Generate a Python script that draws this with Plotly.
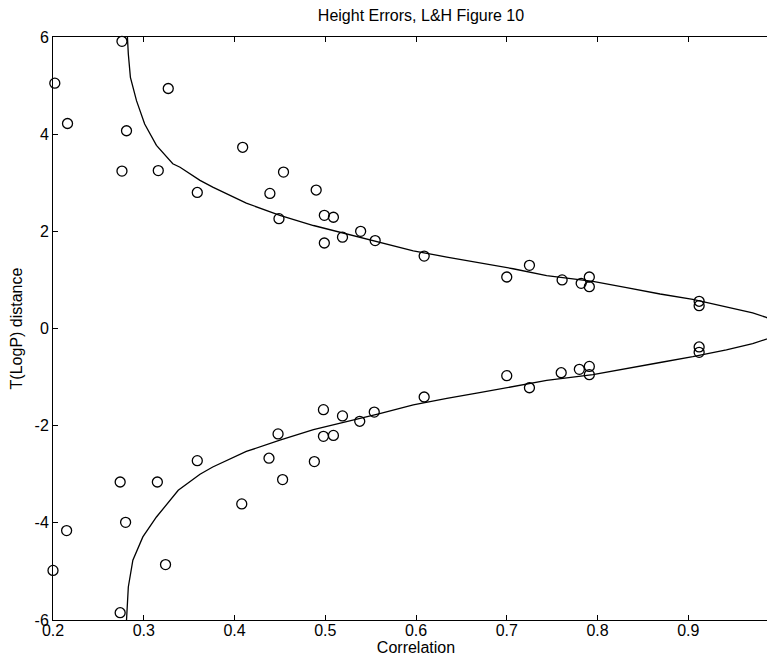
import plotly.graph_objects as go

# ---- data ----
corr_upper = [0.202, 0.216, 0.276, 0.281, 0.276, 0.316, 0.327, 0.359, 0.409, 0.454,
              0.439, 0.449, 0.490, 0.499, 0.509, 0.499, 0.519, 0.539, 0.555, 0.609,
              0.700, 0.725, 0.761, 0.782, 0.791, 0.791, 0.912, 0.912]
dist_upper = [5.05, 4.22, 5.91, 4.07, 3.24, 3.25, 4.94, 2.80, 3.73, 3.22,
              2.78, 2.26, 2.85, 2.33, 2.29, 1.76, 1.88, 2.00, 1.81, 1.49,
              1.06, 1.30, 1.00, 0.93, 1.06, 0.86, 0.56, 0.47]

corr_lower = [0.200, 0.215, 0.274, 0.280, 0.274, 0.315, 0.324, 0.359, 0.408, 0.453,
              0.438, 0.448, 0.488, 0.498, 0.498, 0.509, 0.519, 0.538, 0.554, 0.609,
              0.700, 0.725, 0.760, 0.780, 0.791, 0.791, 0.912, 0.912]
dist_lower = [-4.98, -4.16, -5.85, -3.99, -3.16, -3.16, -4.86, -2.72, -3.61, -3.11,
              -2.67, -2.17, -2.74, -1.67, -2.22, -2.20, -1.80, -1.91, -1.72, -1.41,
              -0.97, -1.22, -0.91, -0.84, -0.78, -0.95, -0.38, -0.49]

curve_corr = [0.282, 0.283, 0.2853, 0.292, 0.301, 0.314, 0.332, 0.340, 0.362, 0.376,
              0.413, 0.450, 0.487, 0.523, 0.560, 0.597, 0.634, 0.670, 0.707, 0.744,
              0.780, 0.795, 0.832, 0.869, 0.905, 0.942, 0.971, 0.986, 0.995, 1.0,
              0.995, 0.986, 0.971, 0.942, 0.905, 0.869, 0.832, 0.795, 0.744, 0.707,
              0.670, 0.634, 0.597, 0.560, 0.523, 0.487, 0.450, 0.413, 0.376, 0.362,
              0.338, 0.314, 0.299, 0.288, 0.283, 0.2815, 0.281]
curve_dist = [6.0, 5.65, 5.17, 4.69, 4.21, 3.77, 3.39, 3.32, 3.05, 2.91,
              2.58, 2.33, 2.12, 1.95, 1.79, 1.60, 1.47, 1.35, 1.23, 1.09,
              1.01, 0.97, 0.84, 0.71, 0.60, 0.45, 0.32, 0.23, 0.15, 0.0,
              -0.14, -0.22, -0.31, -0.44, -0.58, -0.70, -0.82, -0.95, -1.07, -1.20,
              -1.32, -1.44, -1.57, -1.75, -1.92, -2.08, -2.30, -2.53, -2.85, -3.0,
              -3.33, -3.88, -4.29, -4.77, -5.32, -5.87, -6.0]

x_ticks = [0.2, 0.3, 0.4, 0.5, 0.6, 0.7, 0.8, 0.9, 1.0]
y_ticks = [-6, -4, -2, 0, 2, 4, 6]

FONT = "Liberation Sans, Arial, Helvetica, sans-serif"
# The page body adds an 8px offset; the figure is laid out so that the
# plot frame's right edge falls just outside the visible window, as in the reference.
W, H = 775, 650
L, R, T, B = 45, 4, 29, 38

fig = go.Figure()
fig.add_trace(go.Scatter(x=curve_corr, y=curve_dist, mode="lines",
                         line=dict(color="black", width=1.3), showlegend=False))
fig.add_trace(go.Scatter(x=corr_upper + corr_lower, y=dist_upper + dist_lower,
                         mode="markers", cliponaxis=False,
                         marker=dict(symbol="circle-open", size=10, color="black",
                                     line=dict(width=1.3, color="black")),
                         showlegend=False))

fig.update_layout(
    width=W, height=H,
    margin=dict(l=L, r=R, t=T, b=B, autoexpand=False),
    paper_bgcolor="white", plot_bgcolor="white",
    font=dict(family=FONT, size=16, color="black"),
    title=dict(text="Height Errors, L&H Figure 10", x=413 / W, xref="container",
               xanchor="center", y=1 - 7 / H, yref="container", yanchor="middle",
               font=dict(family=FONT, size=16, color="black")),
    xaxis=dict(range=[0.2, 1.0], tickvals=x_ticks, ticktext=[str(v) for v in x_ticks],
               ticks="inside", ticklen=5, tickcolor="black", tickwidth=1,
               showline=True, linecolor="black", linewidth=1, mirror="ticks",
               showgrid=False, zeroline=False, ticklabelstandoff=-4,
               tickfont=dict(size=16),
               title=dict(text="Correlation", standoff=0, font=dict(size=16))),
    yaxis=dict(range=[-6, 6], tickvals=y_ticks, ticktext=[str(v) for v in y_ticks],
               ticks="inside", ticklen=5, tickcolor="black", tickwidth=1,
               showline=True, linecolor="black", linewidth=1, mirror="ticks",
               showgrid=False, zeroline=False,
               tickfont=dict(size=16),
               title=dict(text="T(LogP) distance", standoff=8, font=dict(size=16))),
)

fig.write_html("out.html")
